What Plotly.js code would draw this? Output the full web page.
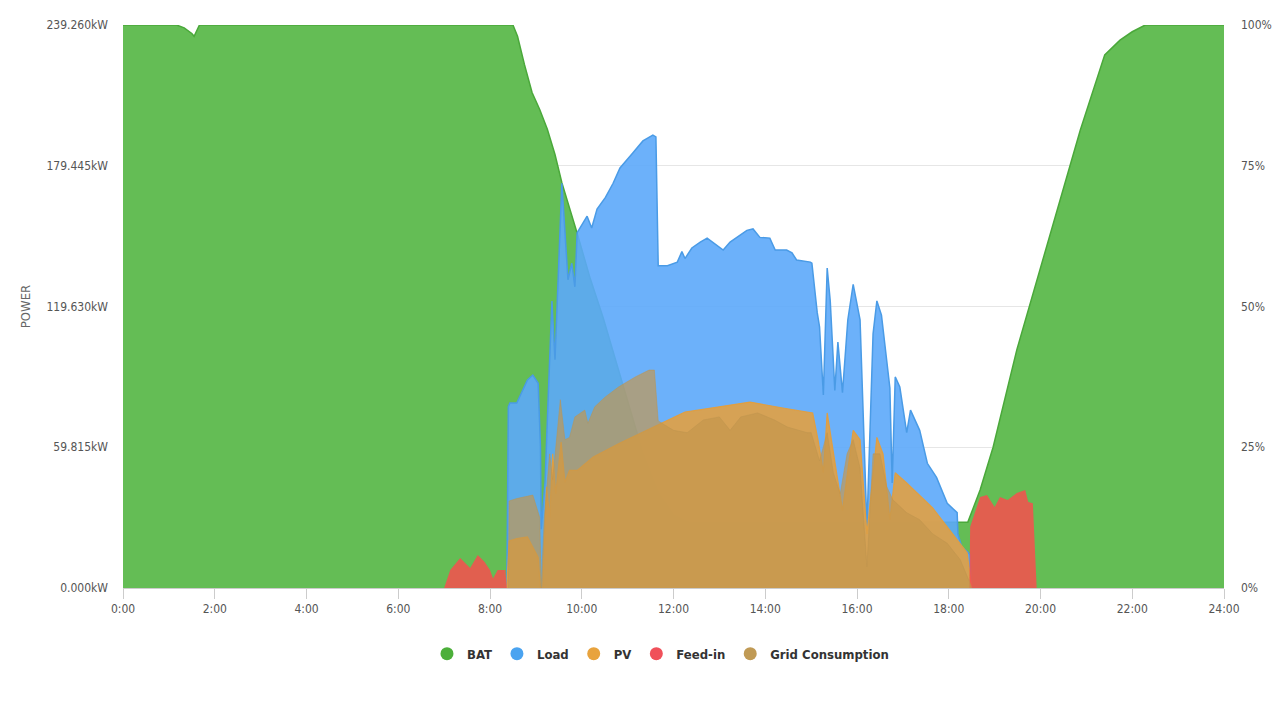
<!DOCTYPE html>
<html>
<head>
<meta charset="utf-8">
<script src="https://cdn.plot.ly/plotly-3.0.1.min.js"></script>
<style>
  html, body { margin: 0; padding: 0; background: #fff; }
  #chart { width: 1280px; height: 720px; }
</style>
</head>
<body>
<div id="chart"></div>
<script>
// battery state of charge, percent (right axis)
const batTime = ['0:00','1:10','1:20','1:30','1:33','1:40','8:30','8:36','8:45','8:55','9:05','9:15','9:25','9:34','9:54','10:11','10:28','10:43','11:00','11:20','11:40','12:00','12:20','18:25','18:41','18:58','19:29','20:12','20:52','21:24','21:44','22:00','22:17','24:00'];
const batSoc = [100,100,99.5,98.5,98,100,100,98,93,88,85,81.5,77,72,63,55,48,41,33,24,17,13,11.7,11.7,17.4,25,42.3,62.7,81.3,94.7,97.3,98.8,100,100];

// load, kW
const loadTime = ['8:22','8:24','8:26','8:35','8:49','8:56','9:03','9:06','9:07','9:12','9:16','9:21','9:25','9:34','9:42','9:47','9:51','9:54','10:07','10:13','10:20','10:31','10:41','10:50','11:07','11:20','11:33','11:37','11:40','11:52','12:05','12:11','12:15','12:24','12:35','12:44','13:05','13:14','13:36','13:44','13:53','14:06','14:13','14:28','14:35','14:41','14:59','15:01','15:08','15:11','15:16','15:21','15:25','15:31','15:35','15:41','15:48','15:55','16:04','16:13','16:21','16:26','16:32','16:43','16:46','16:50','16:56','17:05','17:10','17:22','17:32','17:44','17:58','18:11','18:12','18:17','18:25','18:28','18:29'];
const loadKw = [0,77,78.6,78.6,88.4,90.5,87,60,25,45,80,122,97,172,131,138,128,151,158,153,161,166,172,178.5,185,190,192.5,191.7,137,137,138.5,143,140,144.5,147,148.7,143.6,147,152,152.6,149,148.7,143.6,143.6,142.4,139.4,138.5,138,117,111,82,136,122,84,104.5,83,114,129,114,26,108,122,116,85,44.6,89.7,85.4,66,75.6,67,53,47,36,32,23,17.4,15.3,14,0];

// PV generation, kW
const pvTime = ['8:22','8:25','8:35','8:49','9:03','9:06','9:09','9:14','9:18','9:22','9:26','9:33','9:38','9:44','9:54','10:15','10:50','11:33','12:15','13:00','13:40','14:23','15:02','15:09','15:16','15:21','15:29','15:41','15:55','16:04','16:13','16:26','16:34','16:43','16:50','17:05','17:39','18:05','18:24','18:30'];
const pvKw = [0,20,21,21.7,13,0,0,43,30,57,40,62,45,50,50,55.7,61.6,68.4,74.8,77,79,76.5,74.4,63,49,74.4,57,33,67,63,23,64,57,29,49,44.6,34,23,15,0];

// feed-in, kW (null = no feed-in)
const feedTime = ['7:00','7:08','7:21','7:34','7:44','7:53','8:00','8:04','8:10','8:20','8:22','12:00','18:27','18:28','18:41','18:50','19:00','19:07','19:17','19:29','19:40','19:44','19:50','19:55'];
const feedKw = [0,7.6,12.7,8.5,14,11,7.6,4,7.6,7.6,0,null,0,26,38.7,39.5,34.4,38.7,37.4,40.4,41.6,36.5,36,0];

// grid consumption, kW
const gridTime = ['8:24','8:25','8:35','8:56','9:05','9:07','9:11','9:18','9:22','9:32','9:38','9:44','9:51','10:04','10:08','10:17','10:30','10:48','11:10','11:28','11:35','11:40','12:00','12:18','12:39','13:00','13:14','13:28','13:50','14:12','14:29','14:55','15:00','15:11','15:21','15:29','15:38','15:47','15:55','16:04','16:13','16:21','16:30','16:39','16:47','17:05','17:22','17:39','17:58','18:15','18:28','18:30'];
const gridKw = [0,37,38,39.5,30,0,30,57,46,80,63,64,72.7,75.6,70,77,81,85.4,89.7,92.6,92.6,71,67,66,71.4,72.7,67,72.7,74.4,71.4,68.4,66,66,54,66,49,40,57,63,51,9,57,57,43,37.4,32,29,23,19,12,2,0];

const powerTicks = [0, 59.815, 119.63, 179.445, 239.26];
const socTicks = [0, 25, 50, 75, 100];
const hourTicks = [0,2,4,6,8,10,12,14,16,18,20,22,24];

function toHours(s) {
    const parts = s.split(':');
    return Number(parts[0]) + Number(parts[1]) / 60;
}

const FONT = '"Liberation Sans Narrow", "DejaVu Sans Condensed", "Liberation Sans", sans-serif';

function areaTrace(name, times, values, line, fill, yaxis) {
    return {
        name: name,
        type: 'scatter',
        mode: 'lines',
        x: times.map(toHours),
        y: values,
        yaxis: yaxis,
        fill: 'tozeroy',
        fillcolor: fill,
        connectgaps: false,
        line: { color: line.color, width: line.width, shape: 'linear' },
        showlegend: false,
        hoverinfo: 'skip',
    };
}

function legendTrace(name, color) {
    return {
        name: name,
        type: 'scatter',
        mode: 'markers',
        x: [null],
        y: [null],
        yaxis: 'y2',
        marker: { color: color, size: 13, symbol: 'circle' },
        hoverinfo: 'skip',
    };
}

// BAT sits on the base (percent) axis so it is drawn beneath the power areas
const data = [
    areaTrace('BAT', batTime, batSoc, { color: '#4aa83a', width: 1.5 }, '#64bd55', 'y'),
    areaTrace('Load', loadTime, loadKw, { color: '#4a9be6', width: 1.5 }, 'rgba(92,168,250,0.9)', 'y2'),
    areaTrace('PV', pvTime, pvKw, { color: 'rgba(228,158,60,0.95)', width: 1.2 }, 'rgba(222,160,72,0.93)', 'y2'),
    areaTrace('Feed-in', feedTime, feedKw, { color: 'rgba(240,80,80,0)', width: 0 }, 'rgba(242,82,78,0.88)', 'y2'),
    areaTrace('Grid Consumption', gridTime, gridKw, { color: 'rgba(190,148,78,0.5)', width: 1 }, 'rgba(196,150,76,0.68)', 'y2'),
    legendTrace('BAT', '#4caf3a'),
    legendTrace('Load', '#4aa3f0'),
    legendTrace('PV', '#e8a33d'),
    legendTrace('Feed-in', '#f0505a'),
    legendTrace('Grid Consumption', '#c09a55'),
];

const layout = {
    width: 1280,
    height: 720,
    margin: { l: 123, r: 56, t: 25, b: 132 },
    paper_bgcolor: '#ffffff',
    plot_bgcolor: '#ffffff',
    font: { family: FONT, size: 12, color: '#555' },
    showlegend: true,
    legend: {
        orientation: 'h',
        xref: 'container',
        yref: 'container',
        x: 0.516,
        xanchor: 'center',
        y: 0.092,
        yanchor: 'middle',
        font: { family: FONT, size: 13, color: '#333', weight: 'bold' },
        itemclick: false,
    },
    xaxis: {
        range: [0, 24],
        tickvals: hourTicks,
        ticktext: hourTicks.map(h => h + ':00'),
        showgrid: false,
        zeroline: false,
        showline: true,
        linecolor: '#cccccc',
        ticks: 'outside',
        ticklen: 10,
        tickcolor: '#cccccc',
        tickfont: { family: FONT, size: 12, color: '#555' },
        fixedrange: true,
    },
    yaxis: {
        range: [0, 100],
        side: 'right',
        tickvals: socTicks,
        ticktext: socTicks.map(v => v + '%'),
        showgrid: true,
        gridcolor: '#e6e6e6',
        zeroline: false,
        showline: false,
        ticklabelstandoff: 16,
        tickfont: { family: FONT, size: 12, color: '#555' },
        fixedrange: true,
    },
    yaxis2: {
        range: [0, 239.26],
        overlaying: 'y',
        side: 'left',
        tickvals: powerTicks,
        ticktext: powerTicks.map(v => v.toFixed(3) + 'kW'),
        showgrid: false,
        zeroline: false,
        showline: false,
        ticklabelstandoff: 14,
        tickfont: { family: FONT, size: 12, color: '#555' },
        title: { text: 'POWER', font: { family: FONT, size: 13, color: '#666' }, standoff: 12 },
        fixedrange: true,
    },
};

Plotly.newPlot('chart', data, layout, { displayModeBar: false, staticPlot: true });
</script>
</body>
</html>
